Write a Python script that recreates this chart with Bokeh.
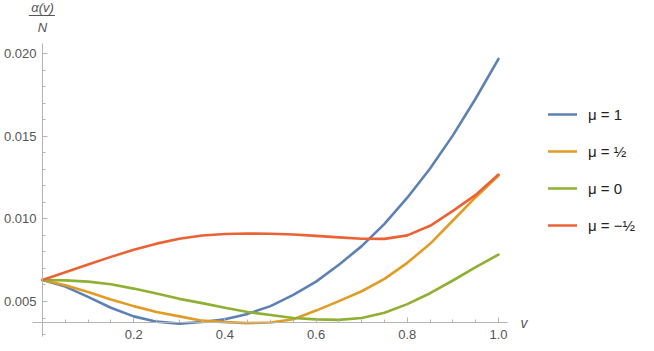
from bokeh.plotting import figure
from bokeh.models import (Range1d, FixedTicker, Legend, LegendItem, Label,
                          BoxAnnotation, PrintfTickFormatter)
from bokeh.embed import file_html
from bokeh.resources import INLINE

# ---- data ----
v = [0.00, 0.05, 0.10, 0.15, 0.20, 0.25, 0.30, 0.35, 0.40, 0.45, 0.50,
     0.55, 0.60, 0.65, 0.70, 0.75, 0.80, 0.85, 0.90, 0.95, 1.00]

mu_1 = [0.00630, 0.00590, 0.00528, 0.00462, 0.00410, 0.00378, 0.00366,
        0.00376, 0.00392, 0.00425, 0.00472, 0.00540, 0.00620, 0.00722,
        0.00835, 0.00970, 0.01128, 0.01305, 0.01505, 0.01728, 0.01968]
mu_half = [0.00630, 0.00598, 0.00558, 0.00512, 0.00472, 0.00437, 0.00410,
           0.00384, 0.00375, 0.00369, 0.00373, 0.00393, 0.00445, 0.00502,
           0.00562, 0.00637, 0.00734, 0.00849, 0.00990, 0.01131, 0.01262]
mu_0 = [0.00630, 0.00628, 0.00620, 0.00604, 0.00578, 0.00548, 0.00516,
        0.00490, 0.00462, 0.00436, 0.00418, 0.00400, 0.00392, 0.00389,
        0.00400, 0.00432, 0.00484, 0.00550, 0.00627, 0.00708, 0.00784]
mu_mhalf = [0.00630, 0.00677, 0.00724, 0.00770, 0.00813, 0.00850, 0.00880,
            0.00899, 0.00908, 0.00911, 0.00910, 0.00905, 0.00897, 0.00888,
            0.00880, 0.00879, 0.00900, 0.00958, 0.01048, 0.01145, 0.01268]

series = [mu_1, mu_half, mu_0, mu_mhalf]
labels = ["\u03bc = 1", "\u03bc = \u00bd", "\u03bc = 0", "\u03bc = \u2212\u00bd"]
colors = ["#5E81B5", "#E19C24", "#8FB032", "#EB6235"]

x_major = [0.2, 0.4, 0.6, 0.8, 1.0]
x_minor = [0.05, 0.1, 0.15, 0.25, 0.3, 0.35, 0.45, 0.5, 0.55, 0.65, 0.7,
           0.75, 0.85, 0.9, 0.95]
y_major = [0.005, 0.010, 0.015, 0.020]
y_minor = [0.003, 0.004, 0.006, 0.007, 0.008, 0.009, 0.011, 0.012, 0.013,
           0.014, 0.016, 0.017, 0.018, 0.019]

FONT = "Liberation Sans"
GRAY_AXIS = "#b4b4b4"
GRAY_TEXT = "#555555"

p = figure(width=654, height=351, output_backend="svg", toolbar_location=None,
           x_range=Range1d(-0.0921, 1.3421), y_range=Range1d(0.001975, 0.023209),
           min_border=0)
p.outline_line_color = None
p.grid.visible = False
p.background_fill_color = "white"

renderers = []
for ys, c in zip(series, colors):
    r = p.line(v, ys, line_color=c, line_width=2.6, line_join="round", line_cap="round")
    renderers.append(r)

# axes crossing Mathematica-style
xa = p.xaxis[0]
ya = p.yaxis[0]
xa.fixed_location = 0.0037
ya.fixed_location = 0.0
xa.bounds = (-0.022, 1.02)
ya.bounds = (0.0029, 0.0206)
xa.ticker = FixedTicker(ticks=x_major, minor_ticks=x_minor)
ya.ticker = FixedTicker(ticks=y_major, minor_ticks=y_minor)
xa.formatter = PrintfTickFormatter(format="%.1f")
ya.formatter = PrintfTickFormatter(format="%.3f")
for ax in (xa, ya):
    ax.axis_line_color = GRAY_AXIS
    ax.major_tick_line_color = GRAY_AXIS
    ax.minor_tick_line_color = GRAY_AXIS
    ax.major_tick_in = 5
    ax.major_tick_out = 0
    ax.minor_tick_in = 3
    ax.minor_tick_out = 0
    ax.major_label_text_font = FONT
    ax.major_label_text_font_size = "13px"
    ax.major_label_text_color = GRAY_TEXT
xa.major_label_standoff = 7
ya.major_label_standoff = 6

# axis labels
p.add_layout(Label(x=1.056, y=0.0037, text="v", text_font=FONT,
                   text_font_size="14px", text_font_style="italic",
                   text_color=GRAY_TEXT, text_align="center",
                   text_baseline="middle"))
p.add_layout(Label(x=0.0, y=0.022756, text="\u03b1(v)", text_font=FONT,
                   text_font_size="13px", text_font_style="italic",
                   text_color=GRAY_TEXT, text_align="center",
                   text_baseline="middle"))
p.add_layout(BoxAnnotation(left=-0.03, right=0.027, bottom=0.02227, top=0.02233,
                           fill_color=GRAY_TEXT, fill_alpha=1.0, line_color=None))
p.add_layout(Label(x=0.0, y=0.021546, text="N", text_font=FONT,
                   text_font_size="13px", text_font_style="italic",
                   text_color=GRAY_TEXT, text_align="center",
                   text_baseline="middle"))

legend = Legend(items=[LegendItem(label=l, renderers=[r]) for l, r in zip(labels, renderers)],
                location=(548, 116), padding=0, margin=0, spacing=17,
                glyph_width=29, glyph_height=20, label_height=20, label_width=40,
                label_standoff=11, border_line_color=None, background_fill_alpha=0,
                label_text_font=FONT, label_text_font_size="15px",
                label_text_color="#222222", label_text_baseline="middle")
p.add_layout(legend)

open("out.html", "w").write(file_html(p, INLINE))
